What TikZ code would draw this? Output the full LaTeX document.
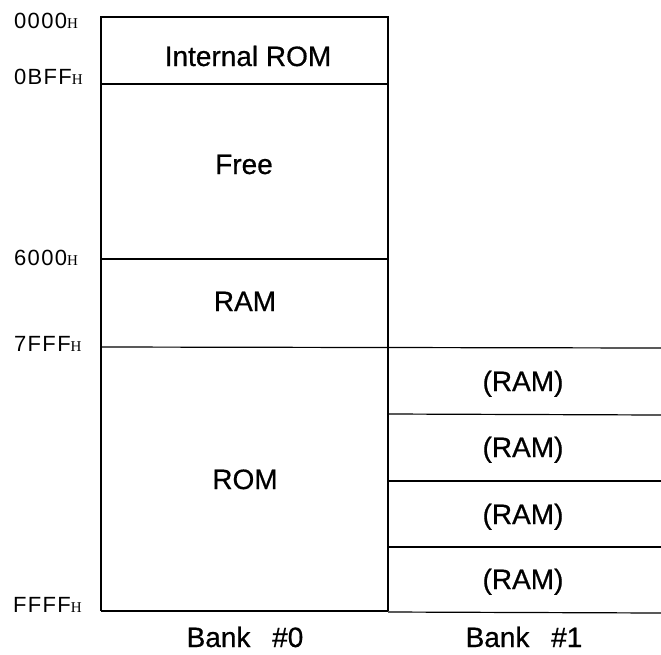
\documentclass[tikz,border=0pt]{standalone}
\usepackage{fontspec}
\setmainfont{Liberation Sans}
\newfontfamily\medfont{Liberation Sans}[FakeBold=0.6]
\newfontfamily\addrfont{Liberation Sans}[LetterSpace=6]
\newfontfamily\subfont{Liberation Serif}
\begin{document}
\begin{tikzpicture}[x=1pt,y=-1pt,
  wall/.style={line width=1.2pt,black},
  region/.style={font=\fontsize{28}{28}\medfont,inner sep=0pt,anchor=base},
  addr/.style={anchor=base west,inner sep=0pt,font=\fontsize{22}{22}\addrfont},
  banklbl/.style={font=\fontsize{28}{28}\medfont,inner sep=0pt,anchor=base}]
\useasboundingbox (0,0) rectangle (661,654);
% bank 0 corners
\coordinate (b0tl) at (101,17);
\coordinate (b0tr) at (388,17);
\coordinate (b0bl) at (101,611);
\coordinate (b0br) at (388,611);
\coordinate (l1l) at (101,84);  \coordinate (l1r) at (388,84);
\coordinate (l2l) at (101,259); \coordinate (l2r) at (388,259);
\coordinate (l3l) at (101,347); \coordinate (l3r) at (661,348);
\coordinate (r1l) at (388,414); \coordinate (r1r) at (661,415);
\coordinate (r2l) at (388,481); \coordinate (r2r) at (661,481);
\coordinate (r3l) at (388,547); \coordinate (r3r) at (661,547);
\coordinate (r4l) at (388,612); \coordinate (r4r) at (661,613);
\draw[wall] (b0bl) -- (b0tl) -- (b0tr) -- (b0br);
\draw[wall] (b0bl) -- (b0br);
\draw[wall] (l1l) -- (l1r);
\draw[wall] (l2l) -- (l2r);
\draw[wall] (l3l) -- (l3r);
\draw[wall] (r1l) -- (r1r);
\draw[wall] (r2l) -- (r2r);
\draw[wall] (r3l) -- (r3r);
\draw[wall] (r4l) -- (r4r);
% region labels
\node[region] (irom) at (248,66) {Internal ROM};
\node[region] (free) at (244,174) {Free};
\node[region] (ram) at (245,311) {RAM};
\node[region] (rom) at (245,489) {ROM};
\node[region] (ram1) at (523,391) {(RAM)};
\node[region] (ram2) at (523,457) {(RAM)};
\node[region] (ram3) at (523,524) {(RAM)};
\node[region] (ram4) at (523,589) {(RAM)};
% address labels
\newcommand{\hsub}{{\fontsize{15}{15}\subfont H}}
\node[addr] (a0) at (14,28) {0000\hsub};
\node[addr] (a1) at (14,84) {0BFF\hsub};
\node[addr] (a2) at (14,265) {6000\hsub};
\node[addr] (a3) at (14,351) {7FFF\hsub};
\node[addr] (a4) at (13,612) {FFFF\hsub};
% bank labels
\node[banklbl] (bank0) at (245,647) {Bank\hspace{0.5em} \#0};
\node[banklbl] (bank1) at (524,647) {Bank\hspace{0.5em} \#1};
\end{tikzpicture}
\end{document}
